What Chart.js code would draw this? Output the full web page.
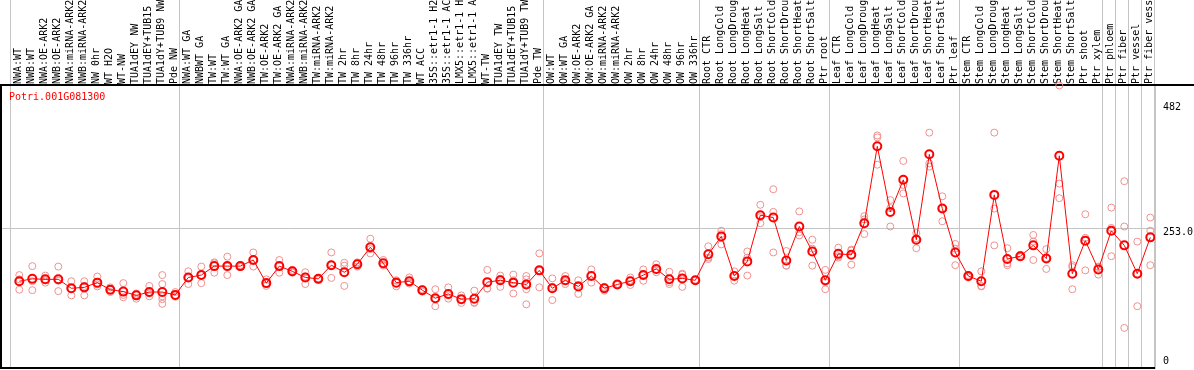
<!DOCTYPE html>
<html>
<head>
<meta charset="utf-8">
<script src="https://cdn.jsdelivr.net/npm/chart.js@4.4.1/dist/chart.umd.min.js"></script>
<style>
  html, body { margin: 0; padding: 0; background: #fff; }
  #wrap { width: 1194px; height: 370px; }
</style>
</head>
<body>
<div id="wrap"><canvas id="chart"></canvas></div>
<script>
// sample names, one per column
const labels = [
  'NWA:WT', 'NWB:WT', 'NWA:OE-ARK2', 'NWB:OE-ARK2', 'NWA:miRNA-ARK2', 'NWB:miRNA-ARK2',
  'NW 0hr', 'WT H2O', 'WT-NW', 'TUA1dEY NW', 'TUA1dEY+TUB15 NW', 'TUA1dY+TUB9 NW', 'Pde NW',
  'NWA:WT GA', 'NWBWT GA', 'TW:WT', 'TW:WT GA', 'NWA:OE-ARK2 GA', 'NWB:OE-ARK2 GA',
  'TW:OE-ARK2', 'TW:OE-ARK2 GA', 'NWA:miRNA-ARK2 GA', 'NWB:miRNA-ARK2 GA', 'TW:miRNA-ARK2',
  'TW:miRNA-ARK2 GA', 'TW 2hr', 'TW 8hr', 'TW 24hr', 'TW 48hr', 'TW 96hr', 'TW 336hr',
  'WT ACC', '35S::etr1-1 H2O', '35S::etr1-1 ACC', 'LMX5::etr1-1 H2O', 'LMX5::etr1-1 ACC',
  'WT-TW', 'TUA1dEY TW', 'TUA1dEY+TUB15 TW', 'TUA1dY+TUB9 TW', 'Pde TW',
  'OW:WT', 'OW:WT GA', 'OW:OE-ARK2', 'OW:OE-ARK2 GA', 'OW:miRNA-ARK2', 'OW:miRNA-ARK2 GA',
  'OW 2hr', 'OW 8hr', 'OW 24hr', 'OW 48hr', 'OW 96hr', 'OW 336hr',
  'Root CTR', 'Root LongCold', 'Root LongDrought', 'Root LongHeat', 'Root LongSalt',
  'Root ShortCold', 'Root ShortDrought', 'Root ShortHeat', 'Root ShortSalt', 'Ptr root',
  'Leaf CTR', 'Leaf LongCold', 'Leaf LongDrought', 'Leaf LongHeat', 'Leaf LongSalt',
  'Leaf ShortCold', 'Leaf ShortDrought', 'Leaf ShortHeat', 'Leaf ShortSalt', 'Ptr leaf',
  'Stem CTR', 'Stem LongCold', 'Stem LongDrought', 'Stem LongHeat', 'Stem LongSalt',
  'Stem ShortCold', 'Stem ShortDrought', 'Stem ShortHeat', 'Stem ShortSalt', 'Ptr shoot',
  'Ptr xylem', 'Ptr phloem', 'Ptr fiber', 'Ptr vessel', 'Ptr fiber vessel'
];

// mean expression (red line)
const means = [
  84, 89, 88, 88, 69, 71, 81, 66, 62, 54, 61, 61, 55,
  92, 97, 116, 116, 116, 129, 80, 116, 105, 92, 89, 118, 103, 120, 156, 122, 81, 84, 65,
  48, 57, 46, 47, 82, 86, 81, 77, 107,
  69, 86, 73, 95, 69, 77, 84, 97, 110, 88, 90, 86,
  141, 179, 95, 126, 224, 219, 128, 200, 147, 86,
  142, 140, 207, 370, 231, 299, 172, 353, 238, 145,
  95, 84, 267, 131, 137, 160, 132, 350, 100, 170, 109,
  191, 160, 100, 177
];

// replicate values (pink circles)
const reps = [
  [97, 88, 66], [116, 84, 65], [96, 81, 86], [115, 63, 85], [84, 54, 68], [84, 54, 74],
  [94, 77, 73], [71, 61, 66], [80, 55, 50], [58, 47, 55], [74, 58, 52], [97, 78, 52, 46, 36],
  [61, 54, 51],
  [105, 78, 91], [115, 80, 97], [124, 102, 122], [136, 97, 115], [118, 114, 116], [145, 115, 129],
  [88, 74, 79], [129, 102, 117], [108, 102, 104], [103, 78, 94], [90, 87, 89], [145, 91, 118],
  [123, 117, 74], [124, 115, 121], [174, 143, 152], [129, 117, 119], [85, 73, 86], [92, 81, 79],
  [67, 62, 66], [67, 31, 46], [71, 47, 54], [54, 38, 46], [64, 39, 38], [108, 69, 68],
  [96, 72, 89], [98, 58, 86], [95, 88, 77, 67, 35], [143, 71, 106],
  [90, 44, 72], [95, 78, 84], [86, 57, 76], [109, 81, 96], [72, 64, 70], [78, 76, 78],
  [92, 76, 86], [109, 85, 98], [120, 103, 108], [104, 78, 82], [100, 72, 98], [87, 85, 87],
  [158, 131, 134], [191, 162, 184], [105, 85, 96], [147, 96, 134], [246, 207, 220],
  [279, 145, 231], [148, 117, 117], [232, 181, 188], [172, 117, 153], [108, 67, 82],
  [155, 134, 137], [151, 119, 149], [222, 184, 215], [393, 389, 331], [256, 239, 200],
  [339, 270, 288], [186, 154, 175], [399, 327, 334], [264, 211, 239], [163, 118, 153],
  [97, 92, 94], [105, 73, 74], [399, 238, 160], [154, 118, 122], [140, 135, 136],
  [182, 129, 168], [152, 110, 133], [499, 291, 260], [118, 67, 114], [226, 107, 176],
  [115, 98, 114],
  [240, 197, 137], [296, 200, -15], [168, 31, 100], [219, 191, 118]
];

// first column of each sample group (88 = end)
const groupStarts = [0, 13, 41, 53, 63, 73, 84, 85, 86, 87, 88];

const yTicks = [0, 253, 482];
const yTickLabels = ['0', '253.0', '482'];

const geneId = 'Potri.001G081300';

const GRID = '#c4c4c4';
const MONO = 'DejaVu Sans Mono';
const EDGE = 0.662;        // group line sits this far left of a group's first point
const LABEL_SHIFT = 0.87;  // rotated top labels come out ~one line left of their tick
const NONE = 'rgba(0,0,0,0)';

const edgeValues = groupStarts.map(s => s - EDGE);
const isEdge = v => edgeValues.some(e => Math.abs(e - v) < 1e-6);

const meanPoints = means.map((v, i) => ({ x: i, y: v }));
const repPoints = [];
reps.forEach((list, i) => list.forEach(v => repPoints.push({ x: i, y: v })));

// no auto padding on any axis, sizes are fixed
const fixSize = (w, h) => scale => {
    if (w !== null) scale.width = w;
    if (h !== null) scale.height = h;
    scale.paddingLeft = 0;
    scale.paddingRight = 0;
    scale.paddingTop = 0;
    scale.paddingBottom = 0;
};

const geneLabel = {
    id: 'geneLabel',
    afterDraw(chart) {
        const { ctx, chartArea } = chart;
        ctx.save();
        // top rule runs on under the value labels
        ctx.strokeStyle = '#000';
        ctx.lineWidth = 2;
        ctx.beginPath();
        ctx.moveTo(chartArea.right, 85);
        ctx.lineTo(chart.width, 85);
        ctx.stroke();
        ctx.fillStyle = '#ff0000';
        ctx.font = '10px "' + MONO + '"';
        ctx.textBaseline = 'middle';
        ctx.fillText(geneId, chartArea.left + 8, 97);
        ctx.restore();
    }
};

new Chart(document.getElementById('chart'), {
    type: 'scatter',
    data: {
        datasets: [
            {
                data: meanPoints,
                showLine: true,
                borderColor: '#ff0000',
                borderWidth: 1,
                tension: 0,
                pointRadius: 4,
                pointBorderWidth: 2,
                pointBorderColor: '#ff0000',
                pointBackgroundColor: NONE
            },
            {
                data: repPoints,
                showLine: false,
                pointRadius: 3.5,
                pointBorderWidth: 1,
                pointBorderColor: '#ef9090',
                pointBackgroundColor: NONE,
                clip: false
            }
        ]
    },
    options: {
        responsive: true,
        maintainAspectRatio: false,
        animation: false,
        layout: { padding: 0, autoPadding: false },
        plugins: {
            legend: { display: false },
            tooltip: { enabled: false }
        },
        scales: {
            x: {
                type: 'linear',
                position: 'top',
                min: -1.4077,
                max: 87.3615,
                afterBuildTicks: scale => {
                    const t = edgeValues.map(v => ({ value: v }))
                        .concat(labels.map((l, i) => ({ value: i + LABEL_SHIFT })));
                    t.sort((a, b) => a.value - b.value);
                    scale.ticks = t;
                },
                afterFit: fixSize(null, 85),
                grid: {
                    color: ctx => (ctx.tick && isEdge(ctx.tick.value)) ? GRID : NONE,
                    tickColor: ctx => (ctx.tick && isEdge(ctx.tick.value)) ? GRID : NONE,
                    tickLength: 85,
                    lineWidth: 1
                },
                border: { color: '#000', width: 2 },
                ticks: {
                    autoSkip: false,
                    minRotation: 90,
                    maxRotation: 90,
                    padding: -84,
                    color: '#000',
                    font: { family: MONO, size: 10 },
                    callback: v => isEdge(v) ? '' : labels[Math.round(v - LABEL_SHIFT)]
                }
            },
            xb: {
                type: 'linear',
                position: 'bottom',
                grid: { display: false },
                ticks: { display: false },
                border: { color: '#000', width: 2 },
                afterFit: fixSize(null, 2)
            },
            yl: {
                type: 'linear',
                position: 'left',
                grid: { display: false },
                ticks: { display: false },
                border: { color: '#000', width: 2 },
                afterFit: fixSize(1, null)
            },
            y: {
                type: 'linear',
                position: 'right',
                min: -12.3,
                max: 524.7,
                afterBuildTicks: scale => {
                    scale.ticks = yTicks.map(v => ({ value: v }));
                },
                afterFit: fixSize(39, null),
                grid: {
                    color: ctx => (ctx.tick && ctx.tick.value === 253) ? GRID : NONE,
                    drawTicks: false
                },
                border: { color: GRID, width: 1 },
                ticks: {
                    padding: 8,
                    color: '#000',
                    // the middle label sits just under its grid line
                    font: ctx => ({
                        family: MONO,
                        size: 10,
                        lineHeight: (ctx.tick && ctx.tick.value === 253) ? 0.8 : 1.2
                    }),
                    callback: v => v === 253 ? ['', yTickLabels[1]] : yTickLabels[yTicks.indexOf(v)]
                }
            }
        }
    },
    plugins: [geneLabel]
});
</script>
</body>
</html>
